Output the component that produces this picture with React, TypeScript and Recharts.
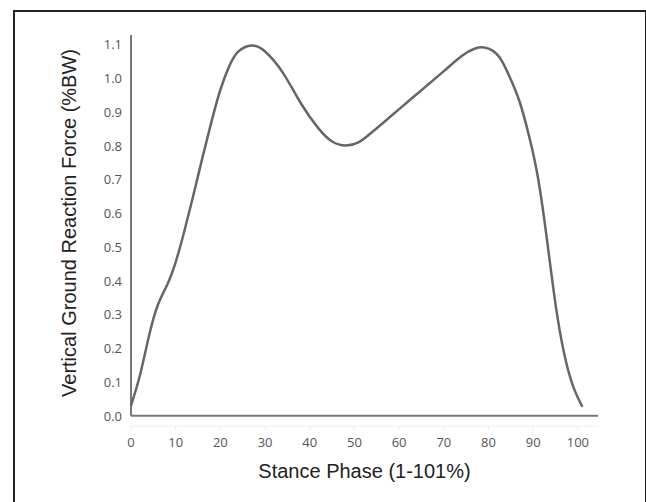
import React from 'react';
import { LineChart, Line, XAxis, YAxis, ReferenceLine, Label } from 'recharts';

// stance phase (%) and vertical GRF (%BW)
const phase = [0, 2, 4, 6, 8, 10, 12, 14, 16, 18, 20, 22, 24, 27, 30, 34, 38, 42, 45, 48, 51, 54, 58, 62, 66, 70, 74, 77, 79, 81, 83, 85, 87, 89, 91, 93, 95, 97, 99, 101];
const force = [0.03, 0.12, 0.235, 0.328, 0.385, 0.455, 0.55, 0.655, 0.765, 0.87, 0.965, 1.035, 1.078, 1.096, 1.078, 1.015, 0.925, 0.85, 0.812, 0.8, 0.81, 0.84, 0.885, 0.93, 0.975, 1.02, 1.065, 1.087, 1.09, 1.08, 1.05, 0.995, 0.928, 0.832, 0.71, 0.53, 0.33, 0.18, 0.085, 0.027];

const xTicks = [0, 10, 20, 30, 40, 50, 60, 70, 80, 90, 100];
const yTicks = [0, 0.1, 0.2, 0.3, 0.4, 0.5, 0.6, 0.7, 0.8, 0.9, 1.0, 1.1];

const data = phase.map((p, i) => ({ phase: p, grf: force[i] }));

const tickFont = '"Open Sans", sans-serif';
const titleStyle = { fill: '#222', fontSize: 20, fontFamily: '"Liberation Sans", Arial, sans-serif' };

const XTick = (props: any) => {
    const { x, payload } = props;
    return (
        <text x={x} y={442} textAnchor="middle" dominantBaseline="central" fill="#555" fontSize={13} fontFamily={tickFont}>
            {payload.value}
        </text>
    );
};

const YTick = (props: any) => {
    const { y, payload } = props;
    return (
        <text x={122} y={y} textAnchor="end" dominantBaseline="central" fill="#555" fontSize={13} fontFamily={tickFont}>
            {Number(payload.value).toFixed(1)}
        </text>
    );
};

export default function App() {
    return (
        <div style={{ position: 'absolute', left: 0, top: 0, width: 646, height: 502, overflow: 'hidden', background: '#fff' }}>
            <div style={{ position: 'absolute', left: 13, top: 10, width: 630, height: 540, border: '2px solid #222' }} />
            <div style={{ position: 'absolute', left: 0, top: 0 }}>
                <LineChart width={646} height={502} data={data} margin={{ top: 35, right: 48, left: 71, bottom: 46 }}>
                    <XAxis
                        dataKey="phase"
                        type="number"
                        domain={[0, 104.5]}
                        ticks={xTicks}
                        interval={0}
                        height={30}
                        tick={<XTick />}
                        tickSize={4}
                        axisLine={{ stroke: '#eee' }}
                        tickLine={{ stroke: '#eee' }}
                    >
                        <Label
                            content={() => (
                                <text x={364.5} y={471} textAnchor="middle" dominantBaseline="central" style={titleStyle}>
                                    Stance Phase (1-101%)
                                </text>
                            )}
                        />
                    </XAxis>
                    <YAxis
                        type="number"
                        domain={[-0.03, 1.127]}
                        ticks={yTicks}
                        interval={0}
                        width={60}
                        tick={<YTick />}
                        tickSize={0}
                        axisLine={false}
                        tickLine={false}
                    >
                        <Label
                            content={() => (
                                <text transform="translate(69,223) rotate(-90)" textAnchor="middle" dominantBaseline="central" style={titleStyle}>
                                    Vertical Ground Reaction Force (%BW)
                                </text>
                            )}
                        />
                    </YAxis>
                    <ReferenceLine segment={[{ x: 0, y: 0 }, { x: 104.5, y: 0 }]} stroke="#777" strokeWidth={2} ifOverflow="visible" />
                    <ReferenceLine segment={[{ x: 0, y: 0 }, { x: 0, y: 1.127 }]} stroke="#777" strokeWidth={2} ifOverflow="visible" />
                    <Line
                        type="natural"
                        dataKey="grf"
                        stroke="#666"
                        strokeWidth={2.5}
                        dot={false}
                        isAnimationActive={false}
                    />
                </LineChart>
            </div>
        </div>
    );
}
